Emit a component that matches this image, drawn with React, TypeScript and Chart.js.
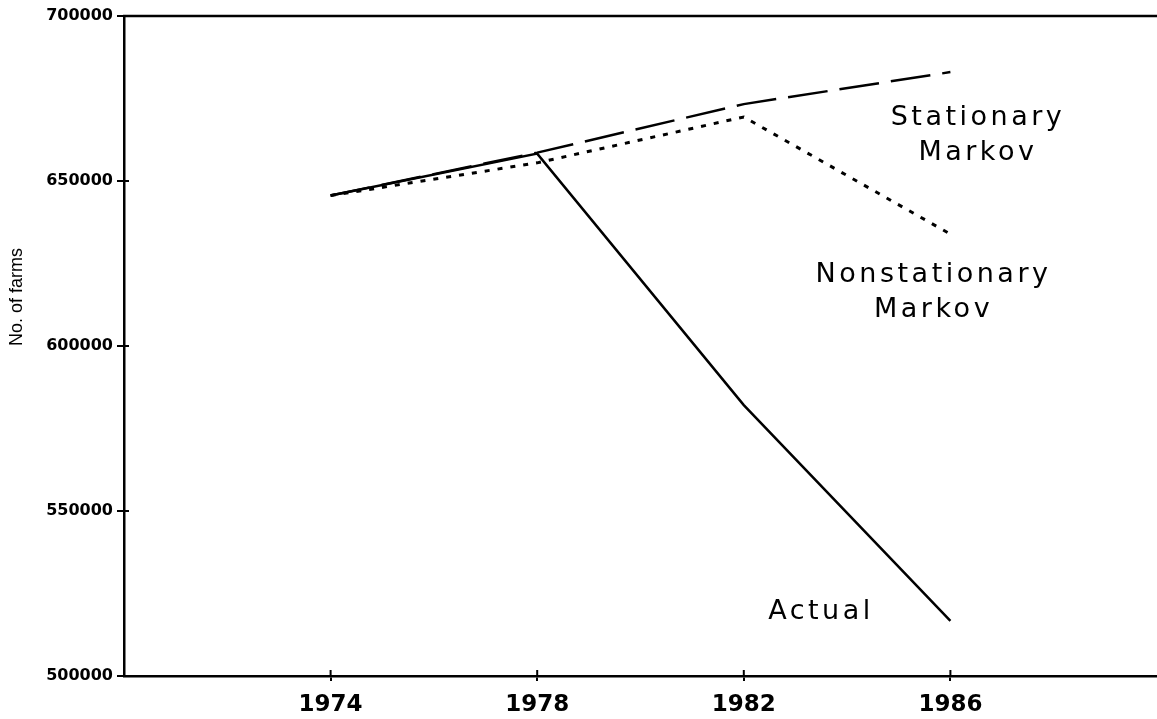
import React, { useEffect, useRef } from "react";
import { Chart, registerables } from "chart.js";

Chart.register(...registerables);

const years = [1974, 1978, 1982, 1986];
const actual = [645600, 658300, 582100, 516700];
const stationary = [645600, 658600, 673300, 683000];
const nonstationary = [645600, 655500, 669400, 633900];
const xTicks = [1974, 1978, 1982, 1986];
const yTicks = [500000, 550000, 600000, 650000, 700000];
const yTitle = "No. of farms";
const labelTexts = ["Stationary", "Markov", "Nonstationary", "Markov", "Actual"];
// label anchors in data coordinates (year, value)
const labelYears = [1986.5, 1986.5, 1985.64, 1985.64, 1983.46];
const labelValues = [667000, 656400, 619400, 608800, 517300];

const W = 1157;
const H = 719;
const SP = 3.5;

const decorPlugin = {
  id: "decor",
  afterDraw(chart: any) {
    const { ctx, chartArea, scales } = chart;
    const { left, right, top, bottom } = chartArea;
    ctx.save();
    ctx.strokeStyle = "#000";
    // top frame line
    ctx.lineWidth = 2.5;
    ctx.beginPath();
    ctx.moveTo(left - 1, top);
    ctx.lineTo(right, top);
    ctx.stroke();
    // inner tick marks (crosses)
    ctx.lineWidth = 2;
    xTicks.forEach((v) => {
      const x = scales.x.getPixelForValue(v);
      ctx.beginPath();
      ctx.moveTo(x, bottom);
      ctx.lineTo(x, bottom - 6);
      ctx.stroke();
    });
    yTicks.forEach((v) => {
      const y = scales.y.getPixelForValue(v);
      ctx.beginPath();
      ctx.moveTo(left, y);
      ctx.lineTo(left + 5, y);
      ctx.stroke();
    });
    // y title
    ctx.fillStyle = "#000";
    ctx.font = "18px 'Liberation Sans'";
    ctx.textAlign = "center";
    ctx.textBaseline = "middle";
    ctx.translate(17, 297);
    ctx.rotate(-Math.PI / 2);
    ctx.fillText(yTitle, 0, 0);
    ctx.restore();

    // annotations
    ctx.save();
    ctx.fillStyle = "#000";
    ctx.font = "27px 'DejaVu Sans'";
    (ctx as any).letterSpacing = SP + "px";
    ctx.textAlign = "left";
    ctx.textBaseline = "alphabetic";
    labelTexts.forEach((t, i) => {
      const cx = scales.x.getPixelForValue(labelYears[i]);
      const by = scales.y.getPixelForValue(labelValues[i]);
      const w = ctx.measureText(t).width - SP;
      ctx.fillText(t, cx - w / 2, by);
    });
    ctx.restore();
  },
};

export default function App() {
  const ref = useRef<HTMLCanvasElement>(null);
  useEffect(() => {
    document.body.style.margin = "0";
    const canvas = ref.current!;
    const mk = (vals: number[]) => years.map((x, i) => ({ x, y: vals[i] }));
    const chart = new Chart(canvas, {
      type: "line",
      data: {
        datasets: [
          {
            label: "Stationary Markov",
            data: mk(stationary),
            borderColor: "#000",
            borderWidth: 2.5,
            borderDash: [40, 12],
            pointRadius: 0,
            tension: 0,
          },
          {
            label: "Nonstationary Markov",
            data: mk(nonstationary),
            borderColor: "#000",
            borderWidth: 3,
            borderDash: [5, 8],
            pointRadius: 0,
            tension: 0,
          },
          {
            label: "Actual",
            data: mk(actual),
            borderColor: "#000",
            borderWidth: 2.5,
            pointRadius: 0,
            tension: 0,
          },
        ],
      },
      options: {
        responsive: false,
        animation: false,
        layout: { padding: { top: 16, right: 0, left: 0, bottom: 0 } },
        plugins: {
          legend: { display: false },
          tooltip: { enabled: false },
        },
        scales: {
          x: {
            type: "linear",
            min: 1970,
            max: 1990,
            afterBuildTicks: (s: any) => {
              s.ticks = xTicks.map((v) => ({ value: v }));
            },
            afterFit: (s: any) => {
              s.height = H - 676;
            },
            grid: {
              drawOnChartArea: false,
              drawTicks: true,
              tickLength: 5,
              color: "#000",
              lineWidth: 2,
            },
            border: { display: true, color: "#000", width: 2.5 },
            ticks: {
              color: "#000",
              padding: 10,
              maxRotation: 0,
              font: { family: "'DejaVu Sans'", size: 23, weight: "bold" },
              callback: (v: any) => String(v),
            },
          },
          y: {
            type: "linear",
            min: 500000,
            max: 700000,
            afterBuildTicks: (s: any) => {
              s.ticks = yTicks.map((v) => ({ value: v }));
            },
            afterFit: (s: any) => {
              s.width = 124;
            },
            grid: {
              drawOnChartArea: false,
              drawTicks: true,
              tickLength: 7,
              color: "#000",
              lineWidth: 2,
            },
            border: { display: true, color: "#000", width: 2.5 },
            ticks: {
              color: "#000",
              padding: 4,
              font: { family: "'DejaVu Sans'", size: 16, weight: "bold" },
              callback: (v: any) => String(v),
            },
          },
        },
      },
      plugins: [decorPlugin],
    } as any);
    return () => chart.destroy();
  }, []);
  return (
    <div style={{ width: W, height: H, background: "#fff" }}>
      <canvas ref={ref} width={W} height={H} style={{ display: "block" }} />
    </div>
  );
}
